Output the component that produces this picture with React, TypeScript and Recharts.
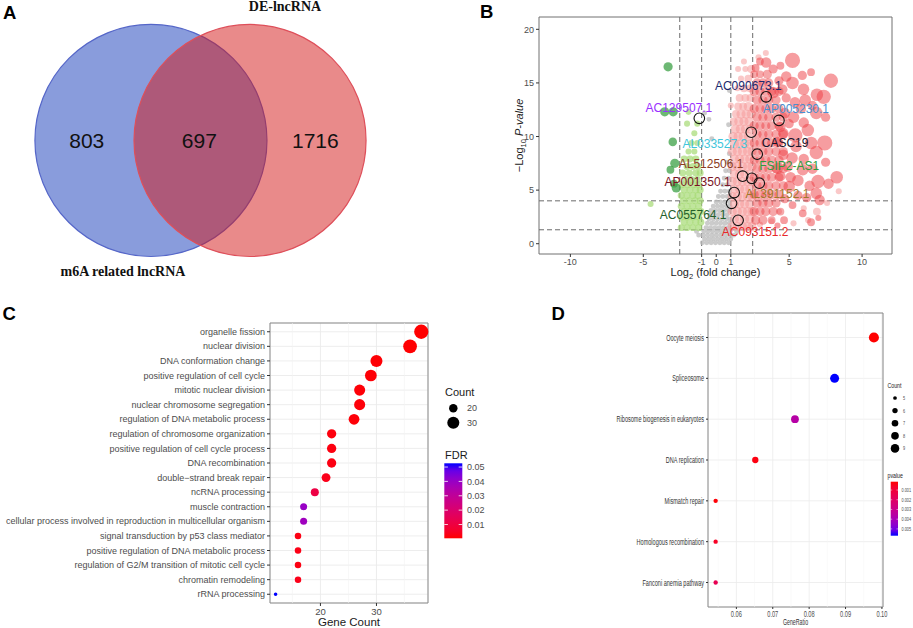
import React from "react";
import {
  ScatterChart,
  Scatter,
  XAxis,
  YAxis,
  ZAxis,
  CartesianGrid,
  ReferenceDot,
  ReferenceLine,
  ReferenceArea,
  Cell,
} from "recharts";

const SANS = '"Liberation Sans", Arial, Helvetica, sans-serif';
const SERIF = '"Liberation Serif", "Times New Roman", serif';
const NARROW_X = 0.63; // the KEGG panel uses a tall, condensed face

// ---------- A: venn (unit circles) ----------
const vennSetNames = ["m6A related lncRNA", "DE-lncRNA"];
const vennCenterX = [-0.427, 0.427];
const vennSetNameX = [-0.668, 0.728];
const vennSetNameY = [-1.131, 1.151];
const vennCounts = [803, 697, 1716];
const vennCountX = [-0.98, -0.01, 0.99];

// ---------- B: volcano  [log2FC, -log10 p, size] ----------
const nsPoints = [
  [-0.95, 0.1], [-0.65, 0.1], [-0.35, 0.1], [-0.05, 0.1], [0.25, 0.1], [0.55, 0.1], [0.85, 0.1],
  [-0.8, 0.45], [-0.5, 0.45], [-0.2, 0.45], [0.1, 0.45], [0.4, 0.45], [0.7, 0.45], [1.0, 0.45],
  [-1.2, 0.8], [-0.9, 0.8], [-0.6, 0.8], [-0.3, 0.8], [0, 0.8], [0.3, 0.8], [0.6, 0.8], [0.9, 0.8], [1.2, 0.8],
  [-1.35, 1.15], [-0.85, 1.15], [-0.55, 1.15], [-0.25, 1.15], [0.05, 1.15], [0.35, 1.15], [0.65, 1.15], [0.95, 1.15], [1.4, 1.15],
  [-0.7, 1.5], [-0.4, 1.5], [-0.1, 1.5], [0.2, 1.5], [0.5, 1.5], [0.8, 1.5],
  [-0.6, 1.9], [-0.3, 1.9], [0, 1.9], [0.3, 1.9], [0.6, 1.9], [0.9, 1.9],
  [-0.5, 2.3], [-0.2, 2.3], [0.1, 2.3], [0.4, 2.3], [0.7, 2.3], [0.95, 2.3],
  [-0.45, 2.7], [-0.15, 2.7], [0.15, 2.7], [0.45, 2.7], [0.75, 2.7],
  [-0.35, 3.1], [-0.05, 3.1], [0.25, 3.1], [0.55, 3.1], [0.85, 3.1],
  [-0.2, 3.5], [0.1, 3.5], [0.4, 3.5], [0.7, 3.5], [0.95, 3.5],
  [0, 3.9], [0.3, 3.9], [0.6, 3.9], [0.9, 3.9], [0.15, 4.4], [0.45, 4.4], [0.75, 4.4],
  [0.3, 4.9], [0.6, 4.9], [0.9, 4.9], [0.45, 5.5], [0.75, 5.5], [0.55, 6.1], [0.85, 6.1],
  [0.65, 6.8], [0.9, 6.8], [0.75, 7.6], [0.9, 8.4],
  [-0.5, 11.6], [-0.8, 12.2], [0.85, 11.1], [0.9, 14.3], [-0.3, 9.8],
];
const downPoints = [
  [-2.4, 1.5, 2.5], [-2.0, 1.5, 2.5], [-1.6, 1.5, 2.5], [-1.2, 1.5, 2.5],
  [-2.2, 2.0, 2.5], [-1.8, 2.0, 2.5], [-1.4, 2.0, 2.5], [-1.05, 2.0, 2.5],
  [-2.4, 2.5, 2.5], [-2.0, 2.5, 2.5], [-1.6, 2.5, 2.5], [-1.2, 2.5, 2.5],
  [-2.2, 3.0, 2.5], [-1.8, 3.0, 2.5], [-1.4, 3.0, 2.5], [-1.05, 3.0, 2.5],
  [-2.4, 3.5, 2.5], [-2.0, 3.5, 2.5], [-1.6, 3.5, 2.5], [-1.2, 3.5, 2.5],
  [-2.25, 4.0, 2.5], [-1.85, 4.0, 2.5], [-1.45, 4.0, 2.5], [-1.1, 4.0, 2.5],
  [-2.4, 4.5, 2.5], [-2.0, 4.5, 2.5], [-1.6, 4.5, 2.5], [-1.25, 4.5, 2.5],
  [-2.2, 5.0, 2.5], [-1.8, 5.0, 2.5], [-1.4, 5.0, 2.5], [-1.1, 5.0, 2.5],
  [-2.35, 5.5, 2.5], [-1.95, 5.5, 2.5], [-1.55, 5.5, 2.5], [-1.2, 5.5, 2.5],
  [-2.1, 6.0, 2.5], [-1.7, 6.0, 2.5], [-1.3, 6.0, 2.5],
  [-2.3, 6.6, 2.5], [-1.85, 6.6, 2.5], [-1.4, 6.6, 2.5], [-1.1, 6.6, 2.5],
  [-2.0, 7.2, 2.5], [-1.6, 7.2, 2.5], [-1.25, 7.2, 2.5], [-2.2, 7.9, 2.5], [-1.8, 7.9, 2.5], [-1.4, 7.9, 2.5],
  [-1.9, 8.6, 2], [-1.5, 8.6, 2], [-1.7, 9.4, 2], [-1.3, 9.4, 2], [-1.5, 10.3, 2], [-1.3, 11.2, 2],
  [-2.0, 11.2, 2], [-1.9, 12.3, 2], [-4.5, 3.7, 2],
];
const strongDownPoints = [
  [-3.3, 16.5, 4], [-3.53, 12.3, 4], [-2.95, 12.3, 4], [-2.98, 9.5, 3.5], [-2.84, 7.5, 4],
  [-3.14, 6.9, 3], [-2.74, 5.2, 4], [-2.9, 5.6, 3],
];
const upPoints = [
  [1.1, 1.6, 4], [1.45, 1.6, 4], [1.8, 1.6, 4], [2.15, 1.6, 4], [2.45, 1.6, 4],
  [1.25, 2.3, 4], [1.6, 2.3, 4], [1.95, 2.3, 4], [2.3, 2.3, 4],
  [1.1, 3.0, 4], [1.45, 3.0, 4], [1.8, 3.0, 4], [2.15, 3.0, 4], [2.45, 3.0, 4],
  [1.25, 3.7, 4], [1.6, 3.7, 4], [1.95, 3.7, 4], [2.3, 3.7, 4],
  [1.1, 4.4, 4], [1.45, 4.4, 4], [1.8, 4.4, 4], [2.15, 4.4, 4], [2.45, 4.4, 4],
  [1.25, 5.1, 4], [1.6, 5.1, 4], [1.95, 5.1, 4], [2.3, 5.1, 4],
  [1.1, 5.8, 4], [1.45, 5.8, 4], [1.8, 5.8, 4], [2.15, 5.8, 4], [2.45, 5.8, 4],
  [1.25, 6.5, 4], [1.6, 6.5, 4], [1.95, 6.5, 4], [2.3, 6.5, 4],
  [1.1, 7.2, 4], [1.45, 7.2, 4], [1.8, 7.2, 4], [2.15, 7.2, 4], [2.45, 7.2, 4],
  [1.25, 7.9, 4], [1.6, 7.9, 4], [1.95, 7.9, 4], [2.3, 7.9, 4],
  [1.1, 8.6, 4], [1.45, 8.6, 4], [1.8, 8.6, 4], [2.15, 8.6, 4], [2.45, 8.6, 4],
  [1.25, 9.3, 4], [1.6, 9.3, 4], [1.95, 9.3, 4], [2.3, 9.3, 4],
  [1.15, 10.0, 4], [1.5, 10.0, 4], [1.85, 10.0, 4], [2.2, 10.0, 4],
  [1.3, 10.7, 4], [1.65, 10.7, 4], [2.0, 10.7, 4], [2.35, 10.7, 4],
  [1.2, 11.4, 3], [1.55, 11.4, 4], [1.9, 11.4, 4], [2.25, 11.4, 4],
  [1.35, 12.1, 3], [1.7, 12.1, 4], [2.05, 12.1, 4], [2.4, 12.1, 4],
  [1.5, 12.8, 3], [1.85, 12.8, 3], [2.2, 12.8, 4], [1.6, 13.6, 3], [2.0, 13.6, 3], [2.35, 13.6, 3],
  [1.45, 14.5, 2], [1.9, 14.5, 3], [2.3, 14.5, 3], [1.7, 15.4, 2], [2.2, 15.4, 3],
  [1.5, 16.3, 2], [2.0, 16.3, 2], [2.4, 16.3, 3], [1.9, 17.0, 2],
  [2.9, 17.4, 2], [3.4, 17.8, 2], [3.0, 1.8, 2], [3.8, 2.1, 2], [5.3, 1.9, 2], [6.0, 3.3, 2], [6.9, 3.0, 3], [7.6, 3.8, 2],
  [8.4, 4.9, 2], [4.3, 3.0, 2], [6.3, 2.2, 2], [1.0, 12.9, 2],
];
const strongUpCore = [
  [2.7, 2.2, 4], [3.2, 2.2, 4], [3.8, 2.2, 3],
  [2.6, 3.0, 4], [3.0, 3.0, 4], [3.4, 3.0, 4], [3.9, 3.0, 4], [4.4, 3.0, 3],
  [2.8, 3.8, 4], [3.2, 3.8, 4], [3.6, 3.8, 4], [4.1, 3.8, 4],
  [2.6, 4.6, 4], [3.0, 4.6, 4], [3.4, 4.6, 4], [3.8, 4.6, 4], [4.3, 4.6, 4],
  [2.8, 5.4, 4], [3.2, 5.4, 4], [3.6, 5.4, 4], [4.1, 5.4, 4], [4.6, 5.4, 4],
  [2.6, 6.2, 4], [3.0, 6.2, 4], [3.4, 6.2, 4], [3.8, 6.2, 4], [4.3, 6.2, 4],
  [2.8, 7.0, 4], [3.2, 7.0, 4], [3.6, 7.0, 4], [4.1, 7.0, 4], [4.6, 7.0, 4],
  [2.6, 7.8, 4], [3.0, 7.8, 4], [3.4, 7.8, 4], [3.8, 7.8, 4], [4.3, 7.8, 4],
  [2.8, 8.6, 4], [3.2, 8.6, 4], [3.6, 8.6, 4], [4.1, 8.6, 4], [4.6, 8.6, 4],
  [2.6, 9.4, 4], [3.0, 9.4, 4], [3.4, 9.4, 4], [3.8, 9.4, 4], [4.3, 9.4, 4],
  [2.8, 10.2, 4], [3.2, 10.2, 4], [3.6, 10.2, 4], [4.1, 10.2, 4], [4.6, 10.2, 4],
  [2.6, 11.0, 4], [3.0, 11.0, 4], [3.4, 11.0, 4], [3.8, 11.0, 4], [4.3, 11.0, 4],
  [2.8, 11.8, 4], [3.2, 11.8, 4], [3.6, 11.8, 4], [4.1, 11.8, 4], [4.6, 11.8, 4],
  [2.6, 12.6, 4], [3.0, 12.6, 4], [3.4, 12.6, 4], [3.8, 12.6, 4], [4.3, 12.6, 4],
  [2.8, 13.4, 4], [3.2, 13.4, 4], [3.6, 13.4, 4], [4.1, 13.4, 4],
  [2.6, 14.2, 4], [3.0, 14.2, 4], [3.4, 14.2, 4], [3.8, 14.2, 4], [4.3, 14.2, 4],
  [2.8, 15.0, 4], [3.2, 15.0, 4], [3.6, 15.0, 4], [2.6, 15.8, 3], [3.0, 15.8, 3], [3.5, 15.8, 4],
];
const strongUpOuter = [
  [2.7, 16.4, 3], [3.0, 17.0, 3], [3.42, 16.9, 5], [3.9, 16.3, 4], [4.4, 16.6, 3], [5.23, 17.1, 10], [4.8, 15.6, 5],
  [4.3, 15.2, 4], [5.23, 15.0, 7], [5.9, 15.7, 4], [6.5, 16.0, 3], [7.86, 15.2, 9],
  [3.9, 14.1, 6], [4.53, 14.4, 5], [5.98, 14.4, 6], [4.8, 13.6, 4], [5.4, 13.2, 5], [6.1, 13.4, 6], [6.9, 13.9, 7],
  [7.37, 13.7, 9], [6.6, 12.9, 4], [4.7, 12.2, 5], [5.3, 11.8, 6], [5.8, 12.6, 5], [6.86, 12.2, 7],
  [7.5, 11.8, 4], [4.4, 10.9, 5], [5.0, 11.2, 4], [6.0, 11.3, 5], [4.6, 10.3, 5], [5.42, 10.1, 9], [6.28, 10.6, 7],
  [4.2, 9.5, 5], [5.47, 9.07, 6], [6.51, 9.4, 7], [7.44, 9.4, 10], [4.6, 8.3, 5], [5.2, 8.0, 6], [6.0, 7.9, 5],
  [6.86, 8.5, 8], [7.5, 7.6, 4], [4.19, 7.04, 6], [4.9, 7.2, 5], [5.93, 6.9, 6], [6.6, 7.0, 5],
  [4.4, 6.3, 5], [5.1, 6.2, 5], [5.6, 5.9, 6], [6.4, 5.4, 5], [6.98, 5.8, 8], [7.7, 5.6, 5], [8.26, 6.2, 7],
  [5.0, 5.33, 6], [4.7, 4.2, 4], [5.6, 4.5, 4], [6.2, 4.3, 4], [6.86, 4.7, 6], [7.09, 4.08, 5],
  [5.23, 3.6, 3], [4.65, 2.2, 3], [5.93, 2.83, 3], [6.5, 2.0, 3], [4.2, 1.7, 2], [7.0, 2.4, 2],
];
const fcCutoffs = [-2.5, -1, 1, 2.5];
const pCutoffs = [4, 1.3];

const hlGenes = ["AC090673.1", "AP005230.1", "AC129507.1", "AL033527.3", "CASC19", "FSIP2-AS1", "AL512506.1", "AL391152.1", "AP001350.1", "AC055764.1", "AC093151.2"];
const hlFC = [3.42, 4.3, -1.16, 2.4, 2.81, 2.44, 1.81, 2.95, 1.23, 1.05, 1.5];
const hlP = [13.7, 11.5, 11.7, 10.4, 8.35, 6.1, 6.3, 5.65, 4.77, 3.77, 2.18];
const hlLabelFC = [2.2, 5.47, -2.56, -0.1, 4.72, 5.0, -0.35, 4.2, -1.28, -1.58, 2.67];
const hlLabelP = [14.7, 12.55, 12.65, 9.3, 9.4, 7.25, 7.4, 4.6, 5.73, 2.68, 1.06];
const hlColors = ["#1c2a6e", "#4a8fd0", "#9b30ff", "#3fc6dc", "#15152a", "#2e9e3e", "#8c3b22", "#a0782a", "#7a1424", "#24602a", "#e8292a"];

// ---------- C: GO enrichment ----------
const goTerms = [
  "organelle fission",
  "nuclear division",
  "DNA conformation change",
  "positive regulation of cell cycle",
  "mitotic nuclear division",
  "nuclear chromosome segregation",
  "regulation of DNA metabolic process",
  "regulation of chromosome organization",
  "positive regulation of cell cycle process",
  "DNA recombination",
  "double\u2212strand break repair",
  "ncRNA processing",
  "muscle contraction",
  "cellular process involved in reproduction in multicellular organism",
  "signal transduction by p53 class mediator",
  "positive regulation of DNA metabolic process",
  "regulation of G2/M transition of mitotic cell cycle",
  "chromatin remodeling",
  "rRNA processing",
];
const goCounts = [38, 36, 30, 29, 27, 27, 26, 22, 22, 22, 21, 19, 17, 17, 16, 16, 16, 16, 12];
const goFDR = [0.0004, 0.0006, 0.0008, 0.0009, 0.001, 0.0012, 0.0011, 0.0015, 0.0018, 0.002, 0.003, 0.011, 0.04, 0.0385, 0.0022, 0.0025, 0.002, 0.0028, 0.0526];
const goCountLegend = [20, 30];
const goFDRTicks = [0.05, 0.04, 0.03, 0.02, 0.01];

// ---------- D: KEGG enrichment ----------
const keggTerms = ["Oocyte meiosis", "Spliceosome", "Ribosome biogenesis in eukaryotes", "DNA replication", "Mismatch repair", "Homologous recombination", "Fanconi anemia pathway"];
const keggRatio = [0.0978, 0.087, 0.0761, 0.0652, 0.0543, 0.0543, 0.0543];
const keggCount = [9, 8, 7, 6, 5, 5, 5];
const keggP = [0.00014, 0.0057, 0.0036, 0.0003, 0.0002, 0.0006, 0.0016];
const keggCountLegend = [5, 6, 7, 8, 9];
const keggPTicks = [0.001, 0.002, 0.003, 0.004, 0.005];

// ---------- colour helpers (red -> blue in Lab like ggplot) ----------
const toLin = (c: number) => { c /= 255; return c <= 0.04045 ? c / 12.92 : Math.pow((c + 0.055) / 1.055, 2.4); };
const fromLin = (c: number) => {
  const v = c <= 0.0031308 ? 12.92 * c : 1.055 * Math.pow(c, 1 / 2.4) - 0.055;
  return Math.round(Math.max(0, Math.min(1, v)) * 255);
};
const toLab = ([r, g, b]: number[]) => {
  const R = toLin(r), G = toLin(g), B = toLin(b);
  const X = (0.4124 * R + 0.3576 * G + 0.1805 * B) / 0.95047;
  const Y = 0.2126 * R + 0.7152 * G + 0.0722 * B;
  const Z = (0.0193 * R + 0.1192 * G + 0.9505 * B) / 1.08883;
  const f = (t: number) => (t > 0.008856 ? Math.cbrt(t) : 7.787 * t + 16 / 116);
  return [116 * f(Y) - 16, 500 * (f(X) - f(Y)), 200 * (f(Y) - f(Z))];
};
const fromLab = ([L, a, b]: number[]) => {
  const fy = (L + 16) / 116, fx = fy + a / 500, fz = fy - b / 200;
  const fi = (t: number) => (t * t * t > 0.008856 ? t * t * t : (t - 16 / 116) / 7.787);
  const X = fi(fx) * 0.95047, Y = fi(fy), Z = fi(fz) * 1.08883;
  const R = 3.2406 * X - 1.5372 * Y - 0.4986 * Z;
  const G = -0.9689 * X + 1.8758 * Y + 0.0415 * Z;
  const B = 0.0557 * X - 0.204 * Y + 1.057 * Z;
  return `rgb(${fromLin(R)},${fromLin(G)},${fromLin(B)})`;
};
const LAB_RED = toLab([255, 0, 0]);
const LAB_BLUE = toLab([0, 0, 255]);
const redBlue = (t: number) => {
  const k = Math.max(0, Math.min(1, t));
  return fromLab(LAB_RED.map((v, i) => v + (LAB_BLUE[i] - v) * k));
};

const FDR_MIN = Math.min(...goFDR), FDR_MAX = Math.max(...goFDR);
const P_MIN = Math.min(...keggP), P_MAX = Math.max(...keggP);
const fdrColor = (v: number) => redBlue((v - FDR_MIN) / (FDR_MAX - FDR_MIN));
const pColor = (v: number) => redBlue((v - P_MIN) / (P_MAX - P_MIN));

// size scales shared by plots and legends (area linear)
const GO_Z = { domain: [12, 38], range: [10, 160] };
const KEGG_Z = { domain: [5, 9], range: [15, 80] };
const radiusOf = (v: number, z: { domain: number[]; range: number[] }) => {
  const a = z.range[0] + ((v - z.domain[0]) / (z.domain[1] - z.domain[0])) * (z.range[1] - z.range[0]);
  return Math.sqrt(a / Math.PI);
};

const toPts = (arr: number[][], z = 1) => arr.map((p) => ({ x: p[0], y: p[1], z: p[2] ?? z }));

// condensed text for panel D
function NText({ x, y, size, anchor = "start", fill = "#333", sx = NARROW_X, children }: any) {
  return (
    <text transform={`translate(${x},${y}) scale(${sx},1)`} textAnchor={anchor} dy="0.35em" fontSize={size} fontFamily={SANS} fill={fill}>
      {children}
    </text>
  );
}

// ---------- panel A ----------
const A_W = 470, A_H = 300;
const A_X: [number, number] = [-1.728, 2.323];
const A_Y: [number, number] = [-1.375, 1.211];
const vennFill = ["rgba(19,57,185,0.5)", "rgba(211,21,21,0.5)"];
const vennStroke = ["#5566c8", "#de4f5a"];

function VennPanel() {
  const pxPerUnit = A_W / (A_X[1] - A_X[0]);
  const counts = vennCounts.map((c, i) => ({ x: vennCountX[i], y: 0, label: String(c) }));
  const names = vennSetNames.map((n, i) => ({ x: vennSetNameX[i], y: vennSetNameY[i], label: n }));
  return (
    <ScatterChart width={A_W} height={A_H} margin={{ top: 0, right: 0, bottom: 0, left: 0 }}>
      <XAxis type="number" dataKey="x" domain={A_X} hide />
      <YAxis type="number" dataKey="y" domain={A_Y} hide />
      {vennCenterX.map((cx, i) => (
        <ReferenceDot key={i} x={cx} y={0} r={pxPerUnit} fill={vennFill[i]} stroke={vennStroke[i]} strokeWidth={1.2} ifOverflow="visible" />
      ))}
      <Scatter
        data={counts}
        isAnimationActive={false}
        shape={(p: any) => (
          <text x={p.cx} y={p.cy} textAnchor="middle" dominantBaseline="central" fontSize={21} fontFamily={SANS} fill="#111">
            {p.payload.label}
          </text>
        )}
      />
      <Scatter
        data={names}
        isAnimationActive={false}
        shape={(p: any) => (
          <text x={p.cx} y={p.cy} textAnchor="middle" dominantBaseline="central" fontSize={14} fontWeight="bold" fontFamily={SERIF} fill="#111">
            {p.payload.label}
          </text>
        )}
      />
    </ScatterChart>
  );
}

// ---------- panel B ----------
const B_X: [number, number] = [-12.15, 12.05];
const B_Y: [number, number] = [-0.96, 21.15];
const volcanoGroups = [
  { pts: toPts(nsPoints, 1.5), fill: "rgba(185,185,185,0.75)" },
  { pts: toPts(downPoints), fill: "rgba(165,218,115,0.7)" },
  { pts: toPts(strongDownPoints), fill: "rgba(60,160,70,0.75)" },
  { pts: toPts(upPoints), fill: "rgba(246,155,155,0.55)" },
  { pts: toPts(strongUpCore), fill: "rgba(236,60,65,0.45)" },
  { pts: toPts(strongUpOuter), fill: "rgba(238,60,65,0.5)" },
];

function VolcanoPanel() {
  const hl = hlGenes.map((g, i) => ({ x: hlFC[i], y: hlP[i], gene: g }));
  const labels = hlGenes.map((g, i) => ({ x: hlLabelFC[i], y: hlLabelP[i], gene: g, color: hlColors[i] }));
  const tick = { fontSize: 9, fill: "#4d4d4d", fontFamily: SANS };
  return (
    <ScatterChart width={433} height={300} margin={{ top: 17, right: 21, bottom: 2, left: 0 }}>
      <XAxis
        type="number"
        dataKey="x"
        domain={B_X}
        ticks={[-10, -5, -1, 0, 1, 5, 10]}
        interval={0}
        height={44}
        tickSize={3}
        tick={tick}
        tickLine={{ stroke: "#333" }}
        axisLine={false}
        label={(props: any) => {
          const vb = props.viewBox;
          return (
            <text x={vb.x + vb.width / 2} y={vb.y + 22} textAnchor="middle" fontSize={11} fontFamily={SANS} fill="#222">
              Log<tspan fontSize={7.5} dy={3}>2</tspan><tspan dy={-3}> (fold change)</tspan>
            </text>
          );
        }}
      />
      <YAxis
        type="number"
        dataKey="y"
        domain={B_Y}
        ticks={[0, 5, 10, 15, 20]}
        width={59}
        tickSize={3}
        tick={tick}
        tickLine={{ stroke: "#333" }}
        axisLine={false}
        label={(props: any) => {
          const vb = props.viewBox;
          const cx = vb.x + 43, cy = vb.y + vb.height / 2;
          return (
            <text transform={`translate(${cx},${cy}) rotate(-90)`} textAnchor="middle" fontSize={11} fontFamily={SANS} fill="#222">
              {"\u2212Log"}<tspan fontSize={7.5} dy={3}>10</tspan><tspan dy={-3}> </tspan><tspan fontStyle="italic">P-value</tspan>
            </text>
          );
        }}
      />
      <ZAxis type="number" dataKey="z" domain={[1, 10]} range={[10, 180]} />
      {volcanoGroups.map((g, i) => (
        <Scatter key={i} data={g.pts} fill={g.fill} isAnimationActive={false} />
      ))}
      {fcCutoffs.map((v) => (
        <ReferenceLine key={"v" + v} x={v} stroke="#6b6b6b" strokeDasharray="5 3" strokeWidth={1} />
      ))}
      {pCutoffs.map((v) => (
        <ReferenceLine key={"h" + v} y={v} stroke="#6b6b6b" strokeDasharray="5 3" strokeWidth={1} />
      ))}
      <Scatter
        data={hl}
        isAnimationActive={false}
        shape={(p: any) => <circle cx={p.cx} cy={p.cy} r={5.3} fill="none" stroke="#111" strokeWidth={1.1} />}
      />
      <Scatter
        data={labels}
        isAnimationActive={false}
        shape={(p: any) => (
          <text x={p.cx} y={p.cy} textAnchor="middle" dominantBaseline="central" fontSize={12} fontFamily={SANS} fill={p.payload.color}>
            {p.payload.gene}
          </text>
        )}
      />
      <ReferenceArea x1={B_X[0]} x2={B_X[1]} y1={B_Y[0]} y2={B_Y[1]} fill="none" stroke="#707070" strokeWidth={1} ifOverflow="visible" />
    </ScatterChart>
  );
}

// ---------- panel C ----------
const C_X: [number, number] = [11, 39.2];
const C_Y: [number, number] = [-0.6, 18.6];

function GoPanel() {
  const rows = goTerms.map((t, i) => ({ x: goCounts[i], y: i, z: goCounts[i], fdr: goFDR[i] }));
  return (
    <ScatterChart width={540} height={328} margin={{ top: 23, right: 112, bottom: 1, left: 0 }}>
      <CartesianGrid stroke="#ebebeb" strokeWidth={0.9} />
      {[15, 25, 35].map((v) => (
        <ReferenceLine key={v} x={v} stroke="#f4f4f4" strokeWidth={0.6} />
      ))}
      <XAxis
        type="number"
        dataKey="x"
        domain={C_X}
        ticks={[20, 30]}
        height={24}
        tickSize={3}
        tick={{ fontSize: 9.5, fill: "#4d4d4d", fontFamily: SANS }}
        tickLine={{ stroke: "#333" }}
        axisLine={false}
        label={{ value: "Gene Count", position: "insideBottom", offset: 1, fontSize: 11.5, fill: "#1a1a1a", fontFamily: SANS }}
      />
      <YAxis
        type="number"
        dataKey="y"
        domain={C_Y}
        reversed
        ticks={goTerms.map((_, i) => i)}
        interval={0}
        width={270}
        tickSize={3}
        tickLine={{ stroke: "#333" }}
        axisLine={false}
        tick={(p: any) => (
          <text x={p.x} y={p.y} dy="0.35em" textAnchor="end" fontSize={9} fontFamily={SANS} fill="#4d4d4d">
            {goTerms[p.payload.value]}
          </text>
        )}
      />
      <ZAxis type="number" dataKey="z" domain={GO_Z.domain} range={GO_Z.range} />
      <Scatter data={rows} isAnimationActive={false}>
        {rows.map((r, i) => (
          <Cell key={i} fill={fdrColor(r.fdr)} />
        ))}
      </Scatter>
      <ReferenceArea x1={C_X[0]} x2={C_X[1]} y1={C_Y[0]} y2={C_Y[1]} fill="none" stroke="#8a8a8a" strokeWidth={1} ifOverflow="visible" />
    </ScatterChart>
  );
}

// ---------- panel D ----------
const D_X: [number, number] = [0.0522, 0.1003];
const D_Y: [number, number] = [-0.6, 6.6];

function KeggPanel() {
  const rows = keggTerms.map((t, i) => ({ x: keggRatio[i], y: i, z: keggCount[i], p: keggP[i] }));
  return (
    <ScatterChart width={373} height={328} margin={{ top: 13, right: 30, bottom: 1, left: 0 }}>
      <CartesianGrid stroke="#ebebeb" strokeWidth={0.8} />
      {[0.055, 0.065, 0.075, 0.085, 0.095].map((v) => (
        <ReferenceLine key={v} x={v} stroke="#f4f4f4" strokeWidth={0.5} />
      ))}
      <XAxis
        type="number"
        dataKey="x"
        domain={D_X}
        ticks={[0.06, 0.07, 0.08, 0.09, 0.1]}
        height={20}
        tickSize={2}
        tickLine={{ stroke: "#333" }}
        axisLine={false}
        tick={(p: any) => (
          <NText x={p.x} y={p.y + 3} size={9} anchor="middle" fill="#4d4d4d">
            {Number(p.payload.value).toFixed(2)}
          </NText>
        )}
        label={(props: any) => {
          const vb = props.viewBox;
          return (
            <NText x={vb.x + vb.width / 2} y={vb.y + 15.5} size={8.5} sx={0.62} anchor="middle" fill="#333">
              GeneRatio
            </NText>
          );
        }}
      />
      <YAxis
        type="number"
        dataKey="y"
        domain={D_Y}
        reversed
        ticks={keggTerms.map((_, i) => i)}
        interval={0}
        width={168}
        tickSize={2}
        tickLine={{ stroke: "#333" }}
        axisLine={false}
        tick={(p: any) => (
          <NText x={p.x} y={p.y} size={8.8} sx={0.63} anchor="end" fill="#333">
            {keggTerms[p.payload.value]}
          </NText>
        )}
      />
      <ZAxis type="number" dataKey="z" domain={KEGG_Z.domain} range={KEGG_Z.range} />
      <Scatter data={rows} isAnimationActive={false}>
        {rows.map((r, i) => (
          <Cell key={i} fill={pColor(r.p)} />
        ))}
      </Scatter>
      <ReferenceArea x1={D_X[0]} x2={D_X[1]} y1={D_Y[0]} y2={D_Y[1]} fill="none" stroke="#8a8a8a" strokeWidth={1} ifOverflow="visible" />
    </ScatterChart>
  );
}

// ---------- legends + panel letters ----------
function Overlay() {
  const gradStops = Array.from({ length: 11 }, (_, i) => i / 10);
  const cBar = { x: 444.3, y: 463.3, w: 18, h: 75 };
  const dBar = { x: 890.7, y: 481.7, w: 7.3, h: 54 };
  const cTickY = (v: number) => cBar.y + ((FDR_MAX - v) / (FDR_MAX - FDR_MIN)) * cBar.h;
  const dTickY = (v: number) => dBar.y + ((v - P_MIN) / (P_MAX - P_MIN)) * dBar.h;
  const letter = { fontSize: 18.5, fontWeight: "bold" as const, fontFamily: SANS, fill: "#000" };
  return (
    <svg width={913} height={628} style={{ position: "absolute", left: 0, top: 0, pointerEvents: "none" }}>
      <defs>
        <linearGradient id="fdrGrad" x1="0" y1="0" x2="0" y2="1">
          {gradStops.map((t) => (
            <stop key={t} offset={t} stopColor={redBlue(1 - t)} />
          ))}
        </linearGradient>
        <linearGradient id="pGrad" x1="0" y1="0" x2="0" y2="1">
          {gradStops.map((t) => (
            <stop key={t} offset={t} stopColor={redBlue(t)} />
          ))}
        </linearGradient>
      </defs>
      <text x={3} y={19.3} {...letter}>A</text>
      <text x={480} y={18.3} {...letter}>B</text>
      <text x={2.5} y={320} {...letter}>C</text>
      <text x={551.5} y={320} {...letter}>D</text>

      {/* C legend */}
      <text x={445} y={395.5} fontSize={11} fontFamily={SANS} fill="#1a1a1a">Count</text>
      {goCountLegend.map((v, i) => (
        <g key={v}>
          <circle cx={453.3} cy={408.3 + i * 14.4} r={radiusOf(v, GO_Z)} fill="#000" />
          <text x={467} y={408.3 + i * 14.4} dy="0.35em" fontSize={9} fontFamily={SANS} fill="#4d4d4d">{v}</text>
        </g>
      ))}
      <text x={445} y={458.5} fontSize={11} fontFamily={SANS} fill="#1a1a1a">FDR</text>
      <rect x={cBar.x} y={cBar.y} width={cBar.w} height={cBar.h} fill="url(#fdrGrad)" />
      {goFDRTicks.map((v) => (
        <g key={v}>
          <line x1={cBar.x} x2={cBar.x + 3.6} y1={cTickY(v)} y2={cTickY(v)} stroke="#fff" strokeWidth={0.8} />
          <line x1={cBar.x + cBar.w - 3.6} x2={cBar.x + cBar.w} y1={cTickY(v)} y2={cTickY(v)} stroke="#fff" strokeWidth={0.8} />
          <text x={467} y={cTickY(v)} dy="0.35em" fontSize={9} fontFamily={SANS} fill="#4d4d4d">{v.toFixed(2)}</text>
        </g>
      ))}

      {/* D legend */}
      <NText x={887.5} y={385} size={7.5} sx={0.7} fill="#1a1a1a">Count</NText>
      {keggCountLegend.map((v, i) => (
        <g key={v}>
          <circle cx={895} cy={398 + i * 12.6} r={radiusOf(v, KEGG_Z) * 0.85} fill="#000" />
          <NText x={903} y={398 + i * 12.6} size={5.5} sx={0.7} fill="#4d4d4d">{v}</NText>
        </g>
      ))}
      <NText x={887.5} y={475} size={7.5} sx={0.7} fill="#1a1a1a">pvalue</NText>
      <rect x={dBar.x} y={dBar.y} width={dBar.w} height={dBar.h} fill="url(#pGrad)" />
      {keggPTicks.map((v) => (
        <g key={v}>
          <line x1={dBar.x} x2={dBar.x + 1.5} y1={dTickY(v)} y2={dTickY(v)} stroke="#fff" strokeWidth={0.5} />
          <line x1={dBar.x + dBar.w - 1.5} x2={dBar.x + dBar.w} y1={dTickY(v)} y2={dTickY(v)} stroke="#fff" strokeWidth={0.5} />
          <NText x={901.5} y={dTickY(v)} size={5.5} sx={0.7} fill="#4d4d4d">{v.toFixed(3)}</NText>
        </g>
      ))}
    </svg>
  );
}

export default function App() {
  return (
    <div style={{ position: "absolute", left: 0, top: 0, width: 913, height: 628, background: "#fff", overflow: "hidden" }}>
      <div style={{ position: "absolute", left: 0, top: 0 }}>
        <VennPanel />
      </div>
      <div style={{ position: "absolute", left: 480, top: 0 }}>
        <VolcanoPanel />
      </div>
      <div style={{ position: "absolute", left: 0, top: 300 }}>
        <GoPanel />
      </div>
      <div style={{ position: "absolute", left: 540, top: 300 }}>
        <KeggPanel />
      </div>
      <Overlay />
    </div>
  );
}
